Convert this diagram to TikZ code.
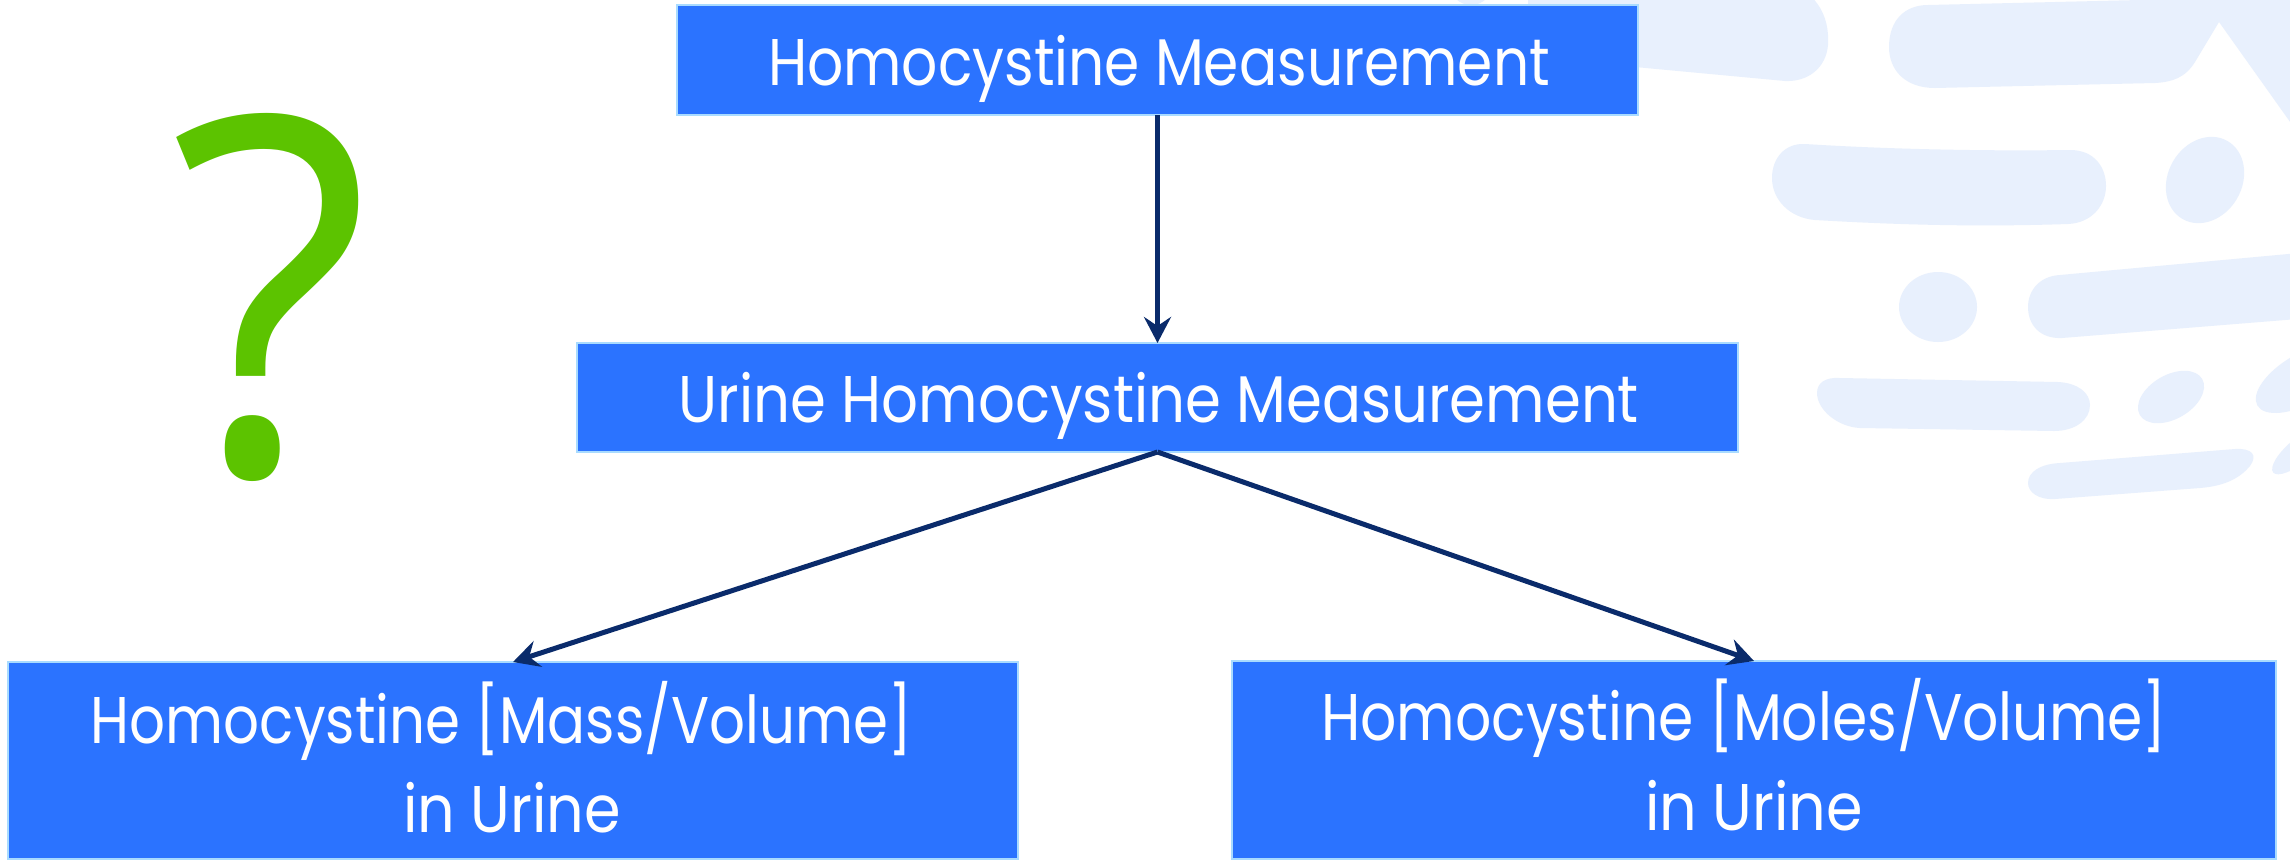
\documentclass[tikz,border=0pt]{standalone}
\usepackage{fontspec}
\usepackage{graphicx}
\setmainfont{Poppins}
\newfontfamily\qfont{Open Sans}
\usetikzlibrary{arrows.meta}

\definecolor{boxblue}{HTML}{2B73FF}
\definecolor{boxedge}{HTML}{A9DBFF}
\definecolor{arrownavy}{HTML}{0A2B6B}
\definecolor{decoblue}{HTML}{E8F0FD}
\definecolor{qgreen}{HTML}{5CC300}

\tikzset{
  flowbox/.style={draw=boxedge, line width=2pt, fill=boxblue, rectangle, inner sep=0pt, outer sep=0pt},
  boxtext/.style={text=white, inner sep=0pt, anchor=base, font=\fontsize{66}{70}\selectfont},
  flowarrow/.style={draw=arrownavy, line width=5pt,
    -{Stealth[length=26pt, width=27pt, inset=9pt]}},
  decoshape/.style={fill=decoblue}
}

% stretch a line of text to a given width, keeping its height
\newcommand{\fitline}[2]{\resizebox{#1}{\height}{#2}}

\begin{document}
\begin{tikzpicture}[x=1pt, y=-1pt]
\useasboundingbox (0,0) rectangle (2290,860);
\fill[white] (0,0) rectangle (2290,860);

\begin{scope}
\clip (0,0) rectangle (2290,860);

% decorative background shapes (top right)
\fill[decoshape] (1471,-15) ellipse [x radius=21, y radius=20];
\fill[decoshape] (1535,-40) -- (1780,-18) .. controls (1815,-12) and (1830,15) .. (1828,45)
  .. controls (1826,68) and (1808,82) .. (1785,81) -- (1560,60)
  .. controls (1540,58) and (1528,40) .. (1528,10)
  .. controls (1528,-20) and (1530,-40) .. (1535,-40) -- cycle;
\fill[decoshape] (1928,5) -- (2140,0) -- (2150,-20) -- (2310,-20) -- (2310,150)
  -- (2219,22) -- (2195,62) .. controls (2185,78) and (2172,82) .. (2155,83)
  -- (1935,88) .. controls (1905,88) and (1889,70) .. (1889,47)
  .. controls (1889,20) and (1905,5) .. (1928,5) -- cycle;
\fill[decoshape] (1805,144) .. controls (1900,150) and (2000,151) .. (2070,150)
  .. controls (2095,150) and (2106,168) .. (2106,186)
  .. controls (2106,205) and (2092,223) .. (2068,224)
  .. controls (1980,227) and (1900,225) .. (1815,220)
  .. controls (1790,218) and (1772,200) .. (1772,178)
  .. controls (1772,158) and (1785,143) .. (1805,144) -- cycle;
\fill[decoshape] (2205,180) ellipse [x radius=45, y radius=37, rotate=60];
\fill[decoshape] (1938,307) ellipse [x radius=39, y radius=35];
\fill[decoshape] (2060,275) -- (2310,252) -- (2310,318) -- (2062,338)
  .. controls (2040,339) and (2028,325) .. (2028,307)
  .. controls (2028,290) and (2040,276) .. (2060,275) -- cycle;
\fill[decoshape] (1840,378) -- (2058,382) .. controls (2078,383) and (2090,393) .. (2090,405)
  .. controls (2090,420) and (2075,431) .. (2054,431) -- (1860,428)
  .. controls (1838,427) and (1817,410) .. (1817,393)
  .. controls (1817,383) and (1825,377) .. (1840,378) -- cycle;
\fill[decoshape] (2171,397) ellipse [x radius=36, y radius=22, rotate=30];
\fill[decoshape] (2305,378) ellipse [x radius=55, y radius=25, rotate=30];
\fill[decoshape] (2060,463) -- (2235,449) .. controls (2252,448) and (2258,455) .. (2250,466)
  .. controls (2240,478) and (2225,486) .. (2200,488) -- (2055,499)
  .. controls (2038,500) and (2028,492) .. (2028,483)
  .. controls (2028,472) and (2040,464) .. (2060,463) -- cycle;
\fill[decoshape] (2300,450) ellipse [x radius=35, y radius=12, rotate=40];

% question mark
\node[anchor=south west, inner sep=0pt, text=qgreen] (qmark) at (170,482)
  {\resizebox{200pt}{360pt}{\qfont ?}};

% boxes
\node[flowbox, minimum width=961pt, minimum height=110pt] (top) at (1157.5,60) {};
\node[flowbox, minimum width=1161pt, minimum height=109pt] (mid) at (1157.5,397.5) {};
\node[flowbox, minimum width=1010pt, minimum height=197pt] (left) at (513,760.5) {};
\node[flowbox, minimum width=1044pt, minimum height=198pt] (right) at (1754,760) {};

% box labels
\node[boxtext] (topT) at (1159,85) {\fitline{782pt}{Homocystine Measurement}};
\node[boxtext] (midT) at (1159,422) {\fitline{960pt}{Urine Homocystine Measurement}};
\node[boxtext] (leftT1) at (501.5,743) {\fitline{821pt}{Homocystine [Mass/Volume]}};
\node[boxtext] (leftT2) at (512,832) {\fitline{218pt}{in Urine}};
\node[boxtext] (rightT1) at (1744,740) {\fitline{846pt}{Homocystine [Moles/Volume]}};
\node[boxtext] (rightT2) at (1754,830) {\fitline{218pt}{in Urine}};

% connectors
\draw[flowarrow] (top.south) -- (mid.north);
\draw[flowarrow] (mid.south) -- (left.north);
\draw[flowarrow] (mid.south) -- (right.north);
\end{scope}
\end{tikzpicture}
\end{document}
